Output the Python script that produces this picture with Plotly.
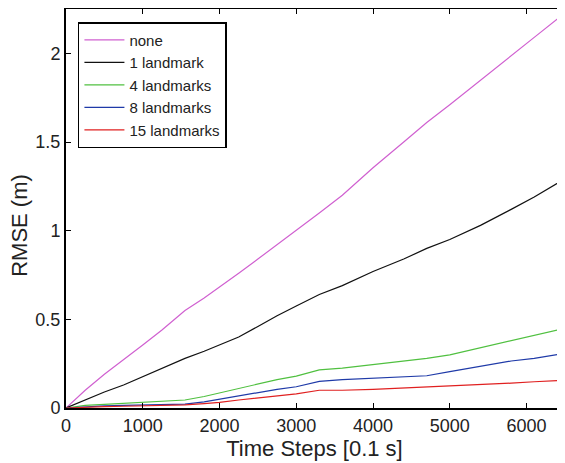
import plotly.graph_objects as go

steps = [0, 250, 500, 750, 1000, 1250, 1550, 1800, 2000, 2250, 2500, 2750, 3000, 3300, 3600, 4000, 4400, 4700, 5000, 5400, 5800, 6100, 6450]

none = [0.0, 0.10, 0.19, 0.27, 0.355, 0.44, 0.55, 0.62, 0.68, 0.76, 0.84, 0.92, 1.0, 1.1, 1.2, 1.355, 1.5, 1.61, 1.71, 1.85, 1.99, 2.09, 2.21]
one = [0.0, 0.045, 0.09, 0.13, 0.177, 0.22, 0.28, 0.32, 0.355, 0.40, 0.46, 0.52, 0.575, 0.64, 0.69, 0.77, 0.84, 0.9, 0.95, 1.03, 1.12, 1.19, 1.28]
four = [0.0, 0.015, 0.02, 0.025, 0.03, 0.035, 0.045, 0.065, 0.085, 0.11, 0.135, 0.16, 0.18, 0.215, 0.225, 0.245, 0.265, 0.28, 0.30, 0.34, 0.38, 0.41, 0.445]
eight = [0.0, 0.008, 0.012, 0.015, 0.018, 0.02, 0.022, 0.035, 0.05, 0.07, 0.09, 0.105, 0.12, 0.15, 0.16, 0.168, 0.175, 0.182, 0.205, 0.235, 0.265, 0.28, 0.305]
fifteen = [0.0, 0.005, 0.008, 0.01, 0.012, 0.015, 0.018, 0.025, 0.032, 0.045, 0.058, 0.07, 0.08, 0.1, 0.1, 0.105, 0.112, 0.118, 0.122, 0.13, 0.14, 0.148, 0.155]

names = ["none", "1 landmark", "4 landmarks", "8 landmarks", "15 landmarks"]
colors = ["#d060d0", "#111111", "#50c040", "#1f3aa8", "#e02020"]
series = [none, one, four, eight, fifteen]

fig = go.Figure()
for n, c, s in zip(names, colors, series):
    fig.add_trace(go.Scatter(x=steps, y=s, mode="lines", name=n,
                             line=dict(color=c, width=1.2)))

axis_common = dict(showline=True, linecolor="black", linewidth=2, mirror="ticks",
                   ticks="inside", ticklen=5, tickcolor="black", showgrid=False,
                   zeroline=False, automargin=False,
                   tickfont=dict(size=18, color="#222", family="Liberation Sans, Arial"))

fig.update_layout(
    width=557, height=455,
    margin=dict(l=58, r=2, t=1, b=55),
    plot_bgcolor="white", paper_bgcolor="white",
    font=dict(family="Liberation Sans, Arial", color="#222"),
    xaxis=dict(range=[0, 6475], tickvals=[0, 1000, 2000, 3000, 4000, 5000, 6000],
               title=dict(text="Time Steps [0.1 s]", font=dict(size=22), standoff=4), **axis_common),
    yaxis=dict(range=[0, 2.25], tickvals=[0, 0.5, 1, 1.5, 2], ticktext=["0", "0.5", "1", "1.5", "2"],
               **axis_common),
    legend=dict(x=0.024, y=0.967, xanchor="left", yanchor="top", bgcolor="white",
                bordercolor="black", borderwidth=1.5, font=dict(size=15),
                itemwidth=40, tracegroupgap=0),
    showlegend=True,
    annotations=[dict(text="RMSE (m)", textangle=-90, xref="paper", yref="paper",
                      x=-0.0926, y=0.459, xanchor="center", yanchor="middle",
                      showarrow=False, font=dict(size=22, color="#222"))],
)

fig.write_html("out.html")
